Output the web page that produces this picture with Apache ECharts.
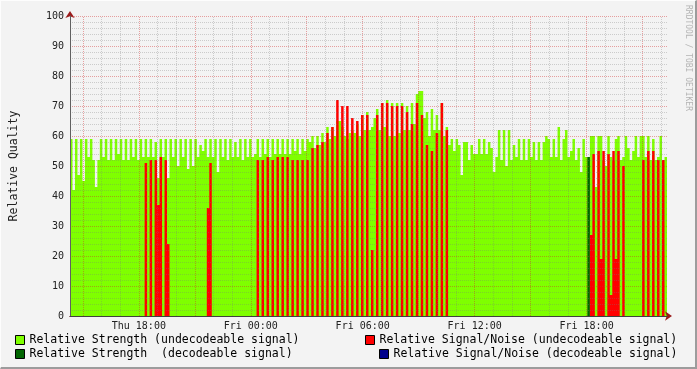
<!DOCTYPE html>
<html><head><meta charset="utf-8">
<script src="https://cdn.jsdelivr.net/npm/echarts@6/dist/echarts.min.js"></script>
<style>
html,body{margin:0;padding:0;background:#f3f3f3;}
#chart{position:absolute;left:0;top:0;width:697px;height:369px;}
#frame{position:absolute;left:0;top:0;width:697px;height:369px;box-sizing:border-box;border-right:2px solid #9c9c9c;border-bottom:2px solid #9c9c9c;border-top:1px solid #fdfdfd;border-left:1px solid #fdfdfd;pointer-events:none;}
</style></head>
<body>
<div id="chart"></div><div id="frame"></div>
<script>
// time: hours since Thu 00:00; one sample every 8 minutes
const startHour = 14.31;
const stepHours = 8 / 60;

const strengthUndecodeable = [
 59,42,59,47,59,45,59,53,59,52,
 43,52,59,53,59,52,59,52,59,54,
 59,52,59,52,59,53,59,52,59,53,
 59,53,59,53,58,46,59,53,59,46,
 59,53,59,50,59,53,59,49,59,50,
 59,53,57,55,59,53,59,53,59,48,
 59,53,59,52,59,53,58,53,59,52,
 59,53,59,53,54,59,53,59,54,59,
 53,59,54,59,54,59,54,59,54,59,
 55,59,54,59,55,59,58,60,56,60,
 57,61,58,63,59,63,60,65,65,63,
 60,59,61,62,61,64,60,67,62,68,
 62,63,66,69,62,71,63,72,60,71,
 60,71,61,71,62,70,62,71,64,74,
 75,75,66,68,60,69,62,67,62,71,
 60,63,57,59,55,59,57,47,58,58,
 52,57,54,54,59,54,59,54,58,56,
 48,53,62,52,62,50,62,52,57,53,
 59,52,59,52,59,53,58,52,58,52,
 58,60,59,53,59,53,63,52,59,62,
 53,55,59,52,56,48,59,53,53,60,
 60,43,60,60,52,50,60,53,52,59,
 60,52,53,60,56,52,55,60,53,60,
 60,53,60,52,59,52,53,60,52,53
];
const snrUndecodeable = [
 0,0,0,0,0,0,0,0,0,0,
 0,0,0,0,0,0,0,0,0,0,
 0,0,0,0,0,0,0,0,0,0,
 51,0,52,0,52,37,53,0,52,24,
 0,0,0,0,0,0,0,0,0,0,
 0,0,0,0,0,36,51,0,0,0,
 0,0,0,0,0,0,0,0,0,0,
 0,0,0,0,0,52,0,52,0,53,
 0,52,0,53,0,53,0,53,0,52,
 0,52,0,52,0,52,0,56,0,57,
 0,58,0,61,0,63,0,72,0,70,
 0,70,0,66,0,65,0,67,0,67,
 0,22,0,67,0,71,0,71,0,70,
 0,70,0,70,0,68,0,64,0,71,
 0,67,0,57,0,55,0,61,0,71,
 0,62,0,0,0,0,0,0,0,0,
 0,0,0,0,0,0,0,0,0,0,
 0,0,0,0,0,0,0,0,0,0,
 0,0,0,0,0,0,0,0,0,0,
 0,0,0,0,0,0,0,0,0,0,
 0,0,0,0,0,0,0,0,0,27,
 54,0,55,19,55,0,54,7,55,19,
 55,0,50,0,0,0,0,0,0,0,
 52,0,55,0,55,0,52,0,52,0
];
const strengthDecodeable = [
 0,0,0,0,0,0,0,0,0,0, 0,0,0,0,0,0,0,0,0,0,
 0,0,0,0,0,0,0,0,0,0, 0,0,0,0,0,0,0,0,0,0,
 0,0,0,0,0,0,0,0,0,0, 0,0,0,0,0,0,0,0,0,0,
 0,0,0,0,0,0,0,0,0,0, 0,0,0,0,0,0,0,0,0,0,
 0,0,0,0,0,0,0,0,0,0, 0,0,0,0,0,0,0,0,0,0,
 0,0,0,0,0,0,0,0,0,0, 0,0,0,0,0,0,0,0,0,0,
 0,0,0,0,0,0,0,0,0,0, 0,0,0,0,0,0,0,0,0,0,
 0,0,0,0,0,0,0,0,0,0, 0,0,0,0,0,0,0,0,0,0,
 0,0,0,0,0,0,0,0,0,0, 0,0,0,0,0,0,0,0,0,0,
 0,0,0,0,0,0,0,0,0,0, 0,0,0,0,0,0,0,0,0,0,
 0,0,0,0,0,0,0,0,53,0, 0,0,0,0,0,0,0,0,0,0,
 0,0,0,0,0,0,0,0,0,0, 0,0,0,0,0,0,0,0,0,0
];
const snrDecodeable = [];

const majorGridHours = [15,18,21,24,27,30,33,36,39,42,45];
const minorGridHours = [16,17,19,20,22,23,25,26,28,29,31,32,34,35,37,38,40,41,43,44,46];
const dayNames = ['Thu', 'Fri'];

const names = [
  'Relative Strength (undecodeable signal)',
  'Relative Signal/Noise (undecodeable signal)',
  'Relative Strength  (decodeable signal)',
  'Relative Signal/Noise (decodeable signal)'
];
const colors = ['#7fff00', '#ff0000', '#006400', '#00008b'];
const minorGridColor = 'rgba(120,120,120,0.33)';
const majorGridColor = 'rgba(210,40,40,0.42)';

const endHour = startHour + strengthUndecodeable.length * stepHours;
function toXY(arr) {
  const out = arr.map((v, i) => [startHour + i * stepHours, v]);
  if (arr.length) out.push([startHour + arr.length * stepHours, arr[arr.length - 1]]);
  return out;
}
function areaSeries(name, color, arr, z) {
  return {
    name, type: 'line', step: 'end', data: toXY(arr), symbol: 'none', showSymbol: false,
    color, itemStyle: { color }, lineStyle: { width: 0, color },
    areaStyle: { color, opacity: 1 }, z, silent: true, clip: true,
    xAxisIndex: 0, yAxisIndex: 0
  };
}
const mono = 'DejaVu Sans Mono';
const legendCommon = {
  orient: 'horizontal', padding: 0, itemWidth: 9, itemHeight: 9, icon: 'rect',
  selectedMode: false,
  itemStyle: { borderColor: '#000', borderWidth: 1 },
  textStyle: { fontFamily: mono, fontSize: 11.5, color: '#000' }
};

const chart = echarts.init(document.getElementById('chart'), null, { renderer: 'canvas' });
chart.setOption({
  animation: false,
  backgroundColor: 'transparent',
  grid: { left: 67, right: 30, top: 16, bottom: 53 },
  xAxis: [
    {
      type: 'value', min: startHour, max: endHour, splitNumber: 16, z: 4,
      axisLine: { onZero: false, lineStyle: { color: '#404040' } },
      axisTick: { show: false }, splitLine: { show: false },
      axisLabel: {
        fontFamily: mono, fontSize: 10, color: '#222', margin: 5, hideOverlap: false,
        formatter: function (v) {
          if (Math.abs(v / 6 - Math.round(v / 6)) > 1e-6) return '';
          const h = Math.round(v);
          const hh = h % 24;
          return dayNames[Math.floor(h / 24)] + ' ' + (hh < 10 ? '0' : '') + hh + ':00';
        }
      }
    },
    {
      type: 'value', min: startHour, max: endHour, position: 'bottom', z: 3,
      axisLine: { onZero: false, symbol: ['none', 'arrow'], symbolSize: [7, 7], symbolOffset: [0, 5], lineStyle: { color: '#9b1c1c' } },
      axisTick: { show: false }, axisLabel: { show: false }, splitLine: { show: false }
    }
  ],
  yAxis: [
    {
      type: 'value', min: 0, max: 100, interval: 10, z: 4,
      axisLine: { show: true, lineStyle: { color: '#606060' } },
      axisTick: { show: false },
      axisLabel: { fontFamily: mono, fontSize: 10, color: '#222', margin: 6 },
      splitLine: { show: true, lineStyle: { color: majorGridColor, type: [1, 1], width: 1 } },
      minorTick: { show: false, splitNumber: 5 },
      minorSplitLine: { show: true, lineStyle: { color: minorGridColor, type: [1, 1], width: 1 } },
      name: 'Relative Quality', nameLocation: 'middle', nameGap: 50,
      nameTextStyle: { fontFamily: mono, fontSize: 11.5, color: '#222' }
    },
    {
      type: 'value', min: 0, max: 100, position: 'left', z: 3,
      axisLine: { show: true, symbol: ['none', 'arrow'], symbolSize: [7, 7], symbolOffset: [0, 5], lineStyle: { color: '#9b1c1c' } },
      axisTick: { show: false }, axisLabel: { show: false }, splitLine: { show: false }
    }
  ],
  legend: [
    Object.assign({ data: [names[0]], left: 15, top: 334 }, legendCommon),
    Object.assign({ data: [names[1]], left: 365, top: 334 }, legendCommon),
    Object.assign({ data: [names[2]], left: 15, top: 348 }, legendCommon),
    Object.assign({ data: [names[3]], left: 379, top: 348 }, legendCommon)
  ],
  graphic: [{
    type: 'text', x: 692, y: 5, rotation: -Math.PI / 2, silent: true,
    style: { text: 'RRDTOOL / TOBI OETIKER', font: '8px "DejaVu Sans Mono"', fill: '#b4b4b4' }
  }],
  series: [
    areaSeries(names[0], colors[0], strengthUndecodeable, 2),
    areaSeries(names[2], colors[2], strengthDecodeable, 2.1),
    areaSeries(names[1], colors[1], snrUndecodeable, 2.2),
    areaSeries(names[3], colors[3], snrDecodeable, 2.3),
    {
      name: 'grid', type: 'line', data: [], xAxisIndex: 0, yAxisIndex: 0, silent: true,
      markLine: {
        silent: true, symbol: ['none', 'none'], label: { show: false }, animation: false,
        data: minorGridHours.map(h => ({ xAxis: h, lineStyle: { color: minorGridColor, type: [1, 1], width: 1 } }))
          .concat(majorGridHours.map(h => ({ xAxis: h, lineStyle: { color: majorGridColor, type: [1, 1], width: 1 } })))
      }
    }
  ]
});
</script>
</body></html>
